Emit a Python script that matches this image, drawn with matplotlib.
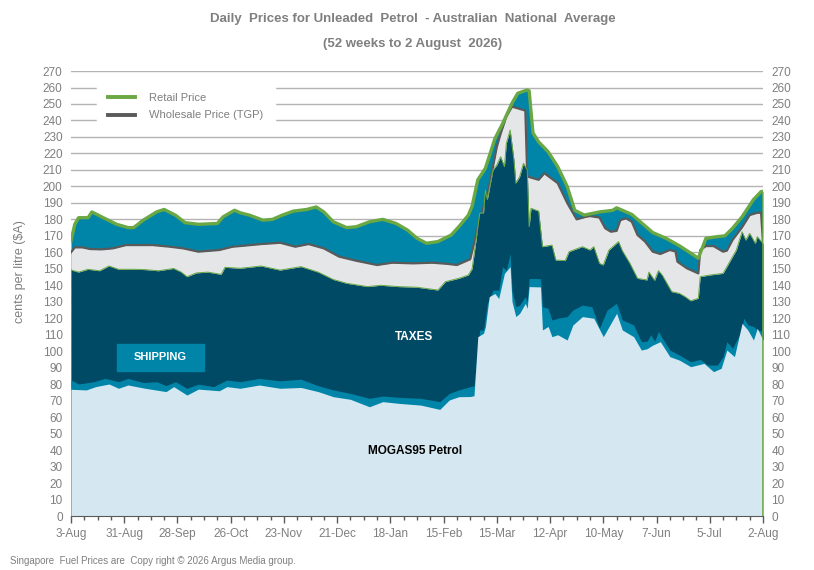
import matplotlib.pyplot as plt
from matplotlib.patches import Rectangle

plt.rcParams['font.family'] = ['Liberation Sans Narrow', 'Liberation Sans', 'DejaVu Sans']

# days since 3-Aug-2025 (52 weeks to 2-Aug-2026)
x_labels = ['3-Aug', '31-Aug', '28-Sep', '26-Oct', '23-Nov', '21-Dec', '18-Jan',
            '15-Feb', '15-Mar', '12-Apr', '10-May', '7-Jun', '5-Jul', '2-Aug']

# Retail price (c/L)
retail_days = [0, 2, 4, 9, 11, 17, 24, 30, 33, 38, 45, 49, 55, 60, 67, 77, 80, 86, 89, 94,
               101, 106, 111, 117, 124, 129, 133, 138, 145, 150, 157, 164, 171, 177, 182, 187,
               193, 200, 204, 209, 211, 214, 218, 223, 227, 232, 235, 240, 241, 243, 246, 251,
               256, 261, 265, 270, 273, 278, 285, 287, 290, 295, 301, 306, 313, 320, 326, 330,
               334, 340, 344, 348, 353, 359, 363, 364]
retail = [167, 177, 181, 181, 184.5, 181, 177, 175, 175, 179.5, 184.5, 186, 182.5, 178, 177,
          177.5, 181.5, 185.5, 184, 182.5, 179.5, 180, 182.5, 185, 186, 187.5, 184.5, 178.5,
          175, 175.5, 178.5, 180, 177.5, 173.5, 168.5, 165.5, 166.5, 170.5, 175.5, 182.5, 188,
          204, 211, 229, 238, 250.5, 256.5, 258.5, 258, 232.5, 227, 221, 212, 200, 185.5, 182.6,
          183.3, 184.5, 185.5, 187, 185.5, 183, 177, 172, 168.5, 164, 159.5, 156.4, 168.5, 169.5,
          170, 174.6, 181.5, 192, 196.8, 197]

# Wholesale price, terminal gate price (c/L)
tgp_days = [0, 2, 6, 10, 16, 22, 29, 43, 52, 59, 67, 78, 85, 89, 100, 110, 118, 125, 133,
            141, 150, 161, 169, 180, 190, 198, 203, 210, 214, 220, 224, 226, 229, 232, 239,
            240, 246, 249, 256, 261, 266, 271, 273, 278, 281, 284, 287, 289, 292, 295, 298,
            302, 306, 310, 315, 318, 319, 324, 330, 331, 334, 338, 343, 345, 348, 353, 357,
            361, 363, 364]
tgp = [160, 163, 163, 162, 161.8, 162.4, 164.4, 164.4, 163.4, 162.4, 160.4, 161.4, 163.4,
       163.8, 165, 165.8, 163.4, 165, 162.4, 157.4, 154.9, 152.3, 153.7, 153.3, 153.7, 153,
       152.3, 155.8, 175, 200, 224, 232, 242.3, 248.4, 246, 206, 204, 208, 202, 190, 180,
       181.6, 182, 181.1, 174.6, 172.5, 173, 179.6, 180.6, 178.6, 170.5, 166.5, 160.4, 159,
       161.4, 160.5, 154.3, 150.3, 147.2, 161.4, 163.8, 163.8, 160.4, 161, 167.5, 175.2,
       182.6, 184, 184, 166]

# MOGAS95 + shipping + taxes (c/L)
taxes_days = [0, 4, 9, 15, 20, 25, 33, 39, 46, 54, 58, 61, 66, 72, 79, 81, 89, 100, 110, 121,
              130, 138, 145, 156, 163, 172, 182, 193, 197, 204, 209, 211, 215, 217, 218, 219,
              222, 224, 226, 228, 229, 231, 233, 234, 236, 238, 240, 241, 242, 246, 248, 253,
              255, 260, 262, 269, 273, 275, 278, 280, 283, 288, 290, 294, 298, 303, 304, 307,
              309, 311, 316, 320, 323, 326, 330, 331, 336, 343, 347, 350, 353, 355, 357, 360,
              361, 364]
taxes = [149.3, 148, 149.7, 148.8, 151.7, 149.7, 149.7, 149.5, 148.8, 150.2, 148, 145.2,
         147.5, 148, 146.6, 150.9, 150.3, 151.7, 149.2, 151.3, 148, 143.5, 141.2, 139.2, 140,
         139.2, 138.8, 137.1, 142.2, 144.2, 146.2, 150, 183.7, 184, 197.8, 192, 210, 213, 218,
         212, 226.1, 234.2, 216, 202, 205.9, 214, 210, 175.6, 186.7, 185, 163.4, 164.4, 155.3,
         155, 160.4, 163.4, 161.4, 163.4, 153.3, 152.3, 161.4, 166.5, 161, 153.3, 144.2,
         143.2, 148, 143, 148.9, 146.2, 136.1, 135.1, 133.1, 130.6, 132.1, 145.2, 146.2,
         147.2, 155.3, 161.4, 172.5, 167.4, 171.5, 165.4, 169.5, 165.4]

# MOGAS95 + shipping (c/L)
shipping_days = [0, 4, 12, 18, 25, 30, 38, 45, 50, 55, 61, 67, 75, 82, 89, 99, 110, 121, 130,
                 138, 147, 157, 164, 173, 184, 194, 199, 204, 210, 212, 215, 217, 219, 222,
                 225, 227, 229, 231, 232, 234, 236, 239, 240, 241, 247, 248, 251, 253, 256,
                 261, 264, 269, 274, 278, 282, 287, 290, 296, 300, 303, 305, 307, 309, 311,
                 315, 320, 326, 331, 335, 340, 343, 345, 348, 352, 354, 356, 359, 361, 364]
shipping = [82.5, 80.1, 81.5, 83.5, 81.5, 83.5, 81, 81.5, 79.1, 81.5, 77.5, 80, 78.5, 82.5,
            81.5, 83.5, 82, 83, 79.1, 76.5, 74.4, 71.4, 72.8, 72, 71.4, 69.4, 74.4, 76.5,
            78.5, 79, 112.9, 112.9, 129, 137.1, 137, 151.3, 149, 159.4, 137, 127, 128, 133.1,
            130, 144.2, 144, 127, 126, 118.9, 120, 121, 125, 128, 127, 113.9, 125, 129, 119,
            115.9, 105.8, 106, 110, 106, 112, 108, 100.7, 97.7, 93.6, 95, 91.6, 91.6, 96.7,
            105.8, 101.7, 110.9, 120, 116, 115, 112.9, 112]

# MOGAS95 Singapore petrol (c/L)
mogas_days = [0, 8, 13, 20, 25, 30, 39, 50, 54, 61, 67, 78, 82, 89, 99, 110, 121, 130, 138,
              147, 157, 164, 173, 184, 194, 199, 204, 210, 212, 214, 217, 218, 220, 223, 225,
              228, 231, 232, 234, 236, 239, 240, 241, 247, 248, 251, 253, 256, 261, 264, 269,
              275, 280, 287, 290, 296, 300, 303, 306, 310, 315, 320, 326, 333, 338, 342, 345,
              349, 353, 356, 359, 361, 364]
mogas = [76.9, 76.5, 78.5, 80.1, 77.5, 79.5, 77.5, 75.5, 78.5, 73.4, 77, 76, 78.5, 77.5,
         79.5, 77.5, 78, 75.5, 72.4, 70.8, 66.3, 69.4, 68.3, 67.3, 64.7, 70.4, 72.4, 72.5,
         73, 108.8, 110.9, 114.9, 133.1, 135, 132, 147.2, 151.3, 130, 121, 123, 129, 126,
         139.2, 139, 112.9, 115, 108.8, 110, 106.8, 115.9, 121, 120, 108.8, 123, 112.9,
         108.8, 100.7, 101.5, 103.7, 105.8, 96.7, 94.6, 90.6, 92.6, 87.6, 89.6, 100.7, 96.7,
         116.9, 112.9, 106.8, 113.9, 106.8]

c_light = '#d5e7f1'
c_teal = '#0085a8'
c_navy = '#004a66'
c_grey = '#e5e6e8'
c_green = '#6aa843'
c_tgp = '#5a5a5a'
c_text = '#7f7f7f'

fig = plt.figure(figsize=(8.14, 5.70), dpi=100)
ax = fig.add_axes([0.0872, 0.0947, 0.8501, 0.7807])

ax.fill_between(retail_days, retail, color=c_teal, lw=0, zorder=2)
ax.fill_between(tgp_days, tgp, color=c_grey, lw=0, zorder=3)
ax.plot(tgp_days, tgp, color=c_tgp, lw=1.6, zorder=3.5)
ax.fill_between(taxes_days, taxes, color=c_navy, lw=0, zorder=4)
ax.plot(taxes_days, taxes, color=c_green, lw=0.7, zorder=4.1)
ax.fill_between(shipping_days, shipping, color=c_teal, lw=0, zorder=5)
ax.fill_between(mogas_days, mogas, color=c_light, lw=0, zorder=6)
ax.plot(retail_days, retail, color=c_green, lw=2.4, zorder=7, solid_joinstyle='round')
ax.vlines(retail_days[-1], 0, retail[-1], color=c_green, lw=1.2, zorder=7)

# legend proxies
l1, = ax.plot([], [], color=c_green, lw=2.8, label='Retail Price')
l2, = ax.plot([], [], color=c_tgp, lw=2.8, label='Wholesale Price (TGP)')
leg = ax.legend(handles=[l1, l2], loc='upper left', bbox_to_anchor=(0.038, 0.975),
                frameon=True, fancybox=False, edgecolor='white', facecolor='white',
                framealpha=1, fontsize=8, labelcolor=c_text, handlelength=2.4,
                handletextpad=1.3, borderpad=1.0, labelspacing=0.65, borderaxespad=0)
leg.set_zorder(8)

ax.set_xlim(0, 364)
ax.set_ylim(0, 270)
ax.set_xticks(range(0, 365, 28))
ax.set_xticklabels(x_labels)
ax.set_xticks(range(0, 365, 7), minor=True)
ax.set_yticks(range(0, 271, 10))
ax.yaxis.grid(True, color='#b3b3b3', lw=1)
ax.set_axisbelow(True)
ax.tick_params(axis='x', colors=c_text, labelsize=8.5, length=5, width=1, direction='out')
ax.tick_params(axis='x', which='minor', length=3, width=1, colors=c_tgp)
ax.tick_params(axis='x', which='major', color=c_tgp)
ax.tick_params(axis='y', colors=c_text, labelsize=8.5, length=0, pad=6,
               labelleft=True, labelright=True)
for s in ['top', 'left', 'right']:
    ax.spines[s].set_visible(False)
ax.spines['bottom'].set_color(c_tgp)
ax.spines['bottom'].set_zorder(9)

ax.set_ylabel('cents per litre ($A)', color=c_text, fontsize=9)
ax.yaxis.set_label_coords(-0.065, 0.55)

# area labels
ax.add_patch(Rectangle((0.066, 0.326), 0.126, 0.061, transform=ax.transAxes,
                       color=c_teal, zorder=9))
ax.text(0.129, 0.357, 'SHIPPING', transform=ax.transAxes, color='white', fontsize=8,
        fontweight='bold', ha='center', va='center', zorder=10)
ax.text(180.5, 108.5, 'TAXES', color='white', fontsize=8.5, fontweight='bold',
        ha='center', va='center', zorder=10)
ax.text(181, 39.5, 'MOGAS95 Petrol', color='black', fontsize=8.5, fontweight='bold',
        ha='center', va='center', zorder=10)

fig.text(0.507, 0.966, 'Daily  Prices for Unleaded  Petrol  - Australian  National  Average',
         ha='center', va='center', color=c_text, fontsize=9.5, fontweight='bold')
fig.text(0.507, 0.922, '(52 weeks to 2 August  2026)', ha='center', va='center',
         color=c_text, fontsize=9.5, fontweight='bold')
fig.text(0.012, 0.016, 'Singapore  Fuel Prices are  Copy right \u00a9 2026 Argus Media group.',
         ha='left', va='center', color=c_text, fontsize=7)

fig.savefig('out.png', dpi=100)
